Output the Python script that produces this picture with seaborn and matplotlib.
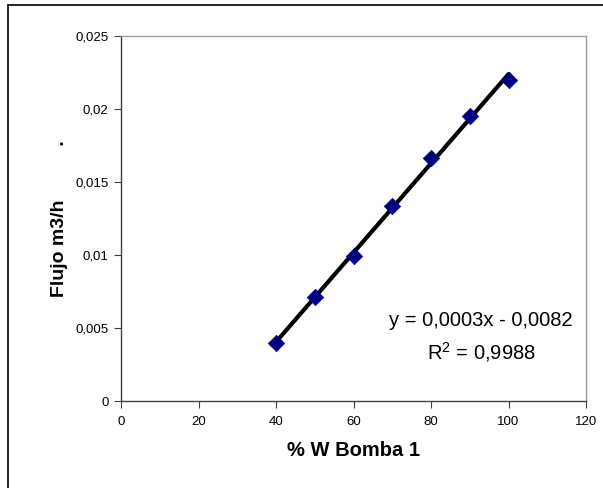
import numpy as np
import pandas as pd
import seaborn as sns
import matplotlib
matplotlib.use("Agg")
import matplotlib.pyplot as plt
from matplotlib.lines import Line2D
from matplotlib.ticker import FixedLocator

# Data
potencia = [40, 50, 60, 70, 80, 90, 100]
flujo = [0.00395, 0.00714, 0.00992, 0.01335, 0.01665, 0.01950, 0.02201]
x_ticks = [0, 20, 40, 60, 80, 100, 120]
y_ticks = [0, 0.005, 0.01, 0.015, 0.02, 0.025]
y_tick_labels = ["0", "0,005", "0,01", "0,015", "0,02", "0,025"]
eq_text = "y = 0,0003x - 0,0082"
r2_text = "R$^2$ = 0,9988"

sns.set_theme(style="white")
plt.rcParams['font.family'] = ['Liberation Sans', 'DejaVu Sans']
plt.rcParams['text.color'] = 'black'
plt.rcParams['axes.labelcolor'] = 'black'
plt.rcParams['mathtext.default'] = 'regular'

df = pd.DataFrame({"x": potencia, "y": flujo})

fig = plt.figure(figsize=(6.03, 4.88), dpi=100)
ax = fig.add_axes([121/603, 1 - 401/488, (586 - 121)/603, (401 - 36)/488])

# Trend line (least squares fit)
sns.regplot(data=df, x="x", y="y", ci=None, scatter=False, truncate=True,
            line_kws=dict(color="black", lw=3.0, zorder=2), ax=ax)
sns.scatterplot(data=df, x="x", y="y", marker="D", s=70, color="#000080",
                edgecolor="#000080", linewidth=0.5, zorder=3, ax=ax)

ax.set_xlim(0, 120)
ax.set_ylim(0, 0.025)
ax.xaxis.set_major_locator(FixedLocator(x_ticks))
ax.yaxis.set_major_locator(FixedLocator(y_ticks))
ax.set_yticklabels(y_tick_labels)
ax.tick_params(axis="both", which="major", labelsize=9.5, direction="out",
               length=5, width=0.8, color="#404040", labelcolor="black",
               bottom=True, left=True, pad=4)
ax.tick_params(axis="x", pad=6)

for s in ["left", "bottom"]:
    ax.spines[s].set_color("#404040")
    ax.spines[s].set_linewidth(1.0)
for s in ["top", "right"]:
    ax.spines[s].set_color("#a0a0a0")
    ax.spines[s].set_linewidth(1.0)

ax.set_xlabel("% W Bomba 1", fontsize=14.5, fontweight="bold", labelpad=9, color="black")
ax.set_ylabel("Flujo m3/h          .", fontsize=14, fontweight="bold", labelpad=5, color="black")

fig.text(481/603, 1 - 321/488, eq_text, ha="center", va="center", fontsize=14.5, color="black")
fig.text(481/603, 1 - 352/488, r2_text, ha="center", va="center", fontsize=14.5, color="black")

# Chart area border (top and left visible)
fig.add_artist(Line2D([8/603, 8/603], [0, 1 - 5/488], transform=fig.transFigure,
                      color="black", lw=1.2))
fig.add_artist(Line2D([8/603, 1], [1 - 5/488, 1 - 5/488], transform=fig.transFigure,
                      color="black", lw=1.2))

fig.savefig("out.png", dpi=100)
